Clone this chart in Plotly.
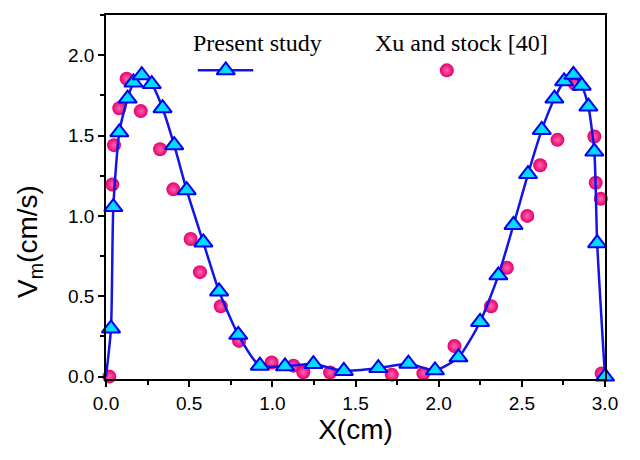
import plotly.graph_objects as go

# Present study (line + triangles)
present_x = [0.0, 0.03, 0.044, 0.08, 0.13, 0.165, 0.215, 0.275, 0.34, 0.41, 0.485,
             0.585, 0.68, 0.795, 0.925, 1.076, 1.247, 1.43, 1.637, 1.818, 1.978,
             2.119, 2.249, 2.359, 2.45, 2.537, 2.62, 2.696, 2.754, 2.81, 2.86,
             2.9, 2.936, 2.953, 3.0]
present_y = [0.0, 0.30, 1.055, 1.52, 1.73, 1.83, 1.875, 1.82, 1.67, 1.44, 1.16,
             0.835, 0.53, 0.26, 0.068, 0.064, 0.078, 0.035, 0.053, 0.08, 0.039,
             0.12, 0.34, 0.63, 0.944, 1.26, 1.535, 1.73, 1.837, 1.878, 1.81,
             1.68, 1.40, 0.83, 0.0]

# Xu and Stock [40] (spheres)
xu_x = [0.02, 0.038, 0.048, 0.08, 0.124, 0.209, 0.325, 0.405, 0.509, 0.565,
        0.69, 0.80, 0.996, 1.127, 1.186, 1.347, 1.718, 1.908, 2.095, 2.315,
        2.41, 2.533, 2.61, 2.714, 2.82, 2.936, 2.944, 2.975, 2.98]
xu_y = [0.0, 1.195, 1.44, 1.67, 1.854, 1.652, 1.415, 1.165, 0.856, 0.65,
        0.438, 0.222, 0.088, 0.068, 0.027, 0.025, 0.012, 0.02, 0.19, 0.438,
        0.677, 1.0, 1.315, 1.473, 1.82, 1.494, 1.206, 1.107, 0.02]

x_ticks = [0.0, 0.5, 1.0, 1.5, 2.0, 2.5, 3.0]
y_ticks = [0.0, 0.5, 1.0, 1.5, 2.0]

LINE_BLUE = "#1414E6"
TRI_FILL = "#00DCFF"
TRI_EDGE = "#0000F0"
PINK = "#E4006E"
PINK_HI = "#FF64AA"

tri_marker = dict(symbol="triangle-up", size=16, color=TRI_FILL,
                  line=dict(color=TRI_EDGE, width=2))
sph_marker = dict(symbol="circle", size=14, color=PINK,
                  gradient=dict(type="radial", color=PINK_HI),
                  line=dict(width=0))

fig = go.Figure()

fig.add_trace(go.Scatter(x=xu_x, y=xu_y, mode="markers", marker=sph_marker,
                         showlegend=False, cliponaxis=False))
fig.add_trace(go.Scatter(x=present_x, y=present_y, mode="lines",
                         line=dict(color=LINE_BLUE, width=2.5, shape="spline", smoothing=0.6),
                         showlegend=False, cliponaxis=False))
fig.add_trace(go.Scatter(x=present_x[1:], y=present_y[1:], mode="markers",
                         marker=tri_marker, showlegend=False, cliponaxis=False))

# custom legend keys on an overlay axis (0..1 paper-like)
fig.add_trace(go.Scatter(x=[0.184, 0.295], y=[0.848, 0.848], mode="lines",
                         line=dict(color=LINE_BLUE, width=2.5), xaxis="x2", yaxis="y2",
                         showlegend=False, hoverinfo="skip"))
fig.add_trace(go.Scatter(x=[0.240], y=[0.848], mode="markers", marker=tri_marker,
                         xaxis="x2", yaxis="y2", showlegend=False, hoverinfo="skip"))
fig.add_trace(go.Scatter(x=[0.683], y=[0.848], mode="markers", marker=sph_marker,
                         xaxis="x2", yaxis="y2", showlegend=False, hoverinfo="skip"))

axis_common = dict(showline=True, linecolor="black", linewidth=1.5, mirror=True,
                   ticks="outside", ticklen=6, tickwidth=1.5, tickcolor="black",
                   showgrid=False, zeroline=False,
                   tickfont=dict(family="Liberation Sans", size=19, color="black"),
                   tickformat=".1f")

fig.update_layout(
    width=632, height=452,
    margin=dict(l=98, r=35, t=5, b=81),
    paper_bgcolor="white", plot_bgcolor="white",
    xaxis=dict(range=[0, 3], tickvals=x_ticks,
               minor=dict(ticks="outside", ticklen=4, tickwidth=1.5, dtick=0.25,
                          tickcolor="black", showgrid=False),
               title=dict(text="X(cm)", font=dict(family="Liberation Sans", size=28, color="black"),
                          standoff=4),
               **axis_common),
    yaxis=dict(range=[-0.015, 2.25], tickvals=y_ticks,
               minor=dict(ticks="outside", ticklen=4, tickwidth=1.5, dtick=0.25,
                          tickcolor="black", showgrid=False),
               **axis_common),
    xaxis2=dict(range=[0, 1], overlaying="x", visible=False, fixedrange=True),
    yaxis2=dict(range=[0, 1], overlaying="y", visible=False, fixedrange=True),
    annotations=[
        dict(text="V<sub>m</sub>(cm/s)", textangle=-90, xref="paper", yref="paper",
             x=-0.152, y=0.377, xanchor="center", yanchor="middle", showarrow=False,
             font=dict(family="Liberation Sans", size=28, color="black")),
        dict(text="Present study", xref="paper", yref="paper", x=0.3036, y=0.923,
             xanchor="center", yanchor="middle", showarrow=False,
             font=dict(family="Liberation Serif", size=24, color="black")),
        dict(text="Xu and stock [40]", xref="paper", yref="paper", x=0.7118, y=0.923,
             xanchor="center", yanchor="middle", showarrow=False,
             font=dict(family="Liberation Serif", size=24, color="black")),
    ],
)

fig.write_html("out.html")
